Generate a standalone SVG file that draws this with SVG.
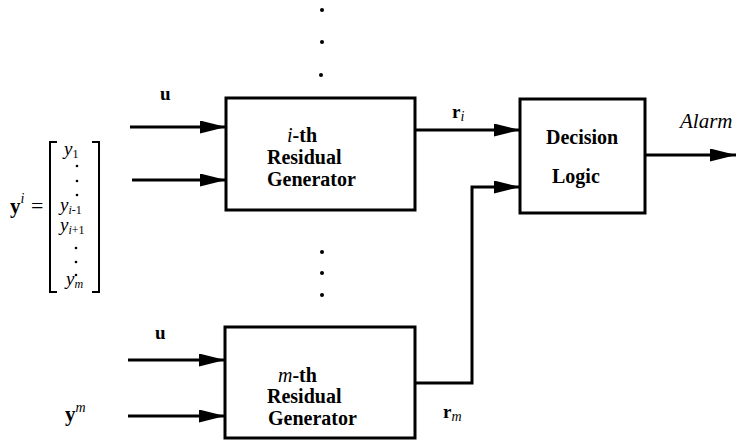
<svg xmlns="http://www.w3.org/2000/svg" width="736" height="446" viewBox="0 0 736 446">
<style>
.box{fill:#fff;stroke:#000;stroke-width:3}
.ln{fill:none;stroke:#000;stroke-width:3}
.br{fill:none;stroke:#000;stroke-width:2}
.t{font-family:"Liberation Serif",serif;font-size:20px;font-weight:bold;fill:#000}
.it{font-family:"Liberation Serif",serif;font-style:italic;fill:#000}
.b{font-family:"Liberation Serif",serif;font-weight:bold;fill:#000}
.up{font-style:normal}
</style>
<defs>
<marker id="ah" markerUnits="userSpaceOnUse" markerWidth="28" markerHeight="14" refX="26" refY="6.5" orient="auto">
<path d="M0,0 L26,6.5 L0,13 z" fill="#000"/>
</marker>
</defs>
<rect width="736" height="446" fill="#fff"/>
<g id="connectors">
<line class="ln" x1="130" y1="127" x2="226" y2="127" marker-end="url(#ah)"/>
<line class="ln" x1="132" y1="180" x2="226" y2="180" marker-end="url(#ah)"/>
<line class="ln" x1="415" y1="130" x2="520" y2="130" marker-end="url(#ah)"/>
<polyline class="ln" points="415,383 472,383 472,187 520,187" marker-end="url(#ah)"/>
<line class="ln" x1="645" y1="155" x2="736" y2="155" marker-end="url(#ah)"/>
<line class="ln" x1="128" y1="360" x2="225" y2="360" marker-end="url(#ah)"/>
<line class="ln" x1="128" y1="416" x2="225" y2="416" marker-end="url(#ah)"/>
</g>
<g id="ith">
<rect class="box" x="226" y="98" width="189" height="112"/>
<text class="t" x="287" y="142"><tspan class="it" font-weight="normal">i</tspan>-th</text>
<text class="t" x="267" y="164">Residual</text>
<text class="t" x="267" y="186">Generator</text>
</g>
<g id="mth">
<rect class="box" x="225" y="327" width="190" height="111"/>
<text class="t" x="278" y="382"><tspan class="it" font-weight="normal">m</tspan>-th</text>
<text class="t" x="267" y="403">Residual</text>
<text class="t" x="268" y="425">Generator</text>
</g>
<g id="decision">
<rect class="box" x="520" y="99" width="125" height="114"/>
<text class="t" x="546" y="144">Decision</text>
<text class="t" x="552" y="183">Logic</text>
</g>
<g id="labels">
<text class="b" x="160" y="100" font-size="19">u</text>
<text class="b" x="155" y="339" font-size="19">u</text>
<text class="b" x="452" y="118" font-size="19">r<tspan class="it" font-weight="normal" font-size="14" dy="3">i</tspan></text>
<text class="b" x="443" y="418" font-size="19">r<tspan class="it" font-weight="normal" font-size="14" dy="3">m</tspan></text>
<text class="it" x="680" y="128" font-size="21">Alarm</text>
<text class="b" x="65" y="421" font-size="21">y<tspan class="it" font-weight="normal" font-size="14" dy="-9">m</tspan></text>
</g>
<g id="dots" fill="#000">
<circle cx="322" cy="10" r="2"/>
<circle cx="322" cy="42" r="2"/>
<circle cx="321" cy="75" r="2"/>
<circle cx="322" cy="252" r="2"/>
<circle cx="322" cy="273" r="2"/>
<circle cx="322" cy="295" r="2"/>
</g>
<g id="vector">
<text class="b" x="10" y="213" font-size="21">y<tspan class="it" font-weight="normal" font-size="14" dy="-10">i</tspan></text>
<text font-family="Liberation Serif, serif" font-size="22" x="31" y="213">=</text>
<path class="br" d="M57,142 L50,142 L50,292 L57,292"/>
<path class="br" d="M92,142 L99,142 L99,292 L92,292"/>
<text class="it" font-size="19" x="64" y="155">y<tspan class="up" font-size="12" dy="3">1</tspan></text>
<circle cx="77" cy="166" r="1.3"/>
<circle cx="77" cy="181" r="1.3"/>
<circle cx="77" cy="195" r="1.3"/>
<text class="it" font-size="19" x="60" y="211">y<tspan font-size="12" dy="3">i</tspan><tspan class="up" font-size="12">-1</tspan></text>
<text class="it" font-size="19" x="60" y="231">y<tspan font-size="12" dy="3">i</tspan><tspan class="up" font-size="12">+1</tspan></text>
<circle cx="76" cy="248" r="1.3"/>
<circle cx="76" cy="262" r="1.3"/>
<circle cx="76" cy="275" r="1.3"/>
<text class="it" font-size="19" x="66" y="285">y<tspan font-size="12" dy="3">m</tspan></text>
</g>
</svg>
